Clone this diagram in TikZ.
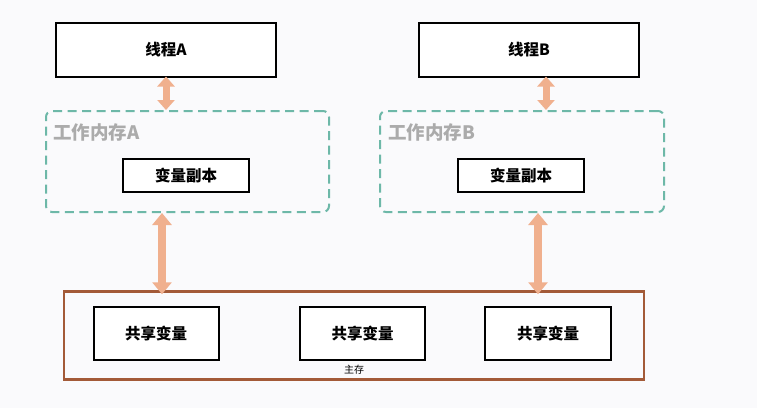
\documentclass[tikz,border=0pt]{standalone}
\usepackage{fontspec}
\setmainfont{Noto Sans CJK SC}
\usetikzlibrary{arrows.meta}
\definecolor{bgc}{HTML}{FAFAFC}
\definecolor{arrc}{HTML}{F0B08E}
\definecolor{tealc}{HTML}{6DB8A8}
\definecolor{brownc}{HTML}{A35A38}
\definecolor{graytxt}{HTML}{ABABAB}
\tikzset{
  box/.style={draw=black, line width=2pt, fill=white, inner sep=0pt, font=\fontsize{15.5}{17}\selectfont\bfseries},
  workbox/.style={draw=tealc, line width=2pt, dash pattern=on 9pt off 5.5pt, rounded corners=6pt, inner sep=0pt},
  biarrow/.style={draw=arrc, line width=7pt, {Triangle[width=17pt,length=10pt]}-{Triangle[width=17pt,length=10pt]}},
  biarrowb/.style={draw=arrc, line width=8pt, {Triangle[width=19pt,length=12pt]}-{Triangle[width=19pt,length=12pt]}},
}
\begin{document}
\begin{tikzpicture}[x=1pt,y=-1pt]
\fill[bgc] (0,0) rectangle (757,408);
\useasboundingbox (0,0) rectangle (757,408);
% threads
\node[box, minimum width=220pt, minimum height=54pt] (ta) at (166,49.5) {线程A};
\node[box, minimum width=220pt, minimum height=54pt] (tb) at (529,49.5) {线程B};
% working memory
\node[workbox, minimum width=283pt, minimum height=101pt] (wa) at (187.5,161.5) {};
\node[workbox, minimum width=284pt, minimum height=101pt] (wb) at (522,161.5) {};
\node[anchor=west, inner sep=0pt, text=graytxt, font=\fontsize{18.5}{20}\selectfont\bfseries] (la) at (53,132) {工作内存A};
\node[anchor=west, inner sep=0pt, text=graytxt, font=\fontsize{18.5}{20}\selectfont\bfseries] (lb) at (388,132) {工作内存B};
\node[box, minimum width=126pt, minimum height=33pt] (va) at (186,175.5) {变量副本};
\node[box, minimum width=126pt, minimum height=33pt] (vb) at (521,175.5) {变量副本};
% main memory
\node[draw=brownc, line width=2.5pt, minimum width=580pt, minimum height=88pt, inner sep=0pt] (mm) at (354,335.5) {};
\node[font=\fontsize{10}{11}\selectfont] (ml) at (354,369.5) {主存};
\node[box, minimum width=125pt, minimum height=53pt] (s1) at (156,333.5) {共享变量};
\node[box, minimum width=125pt, minimum height=53pt] (s2) at (362.5,333.5) {共享变量};
\node[box, minimum width=126pt, minimum height=53pt] (s3) at (548,333.5) {共享变量};
% arrows
\draw[biarrow] ([yshift=1pt]ta.south) -- (ta.south |- wa.north);
\draw[biarrow] ([xshift=17pt,yshift=1pt]tb.south) -- ([xshift=17pt]tb.south |- wb.north);
\draw[biarrowb] ([xshift=-25.5pt]wa.south) -- ([xshift=-192pt,yshift=-4pt]mm.north);
\draw[biarrowb] ([xshift=16pt]wb.south) -- ([xshift=184pt,yshift=-4pt]mm.north);
\end{tikzpicture}
\end{document}
